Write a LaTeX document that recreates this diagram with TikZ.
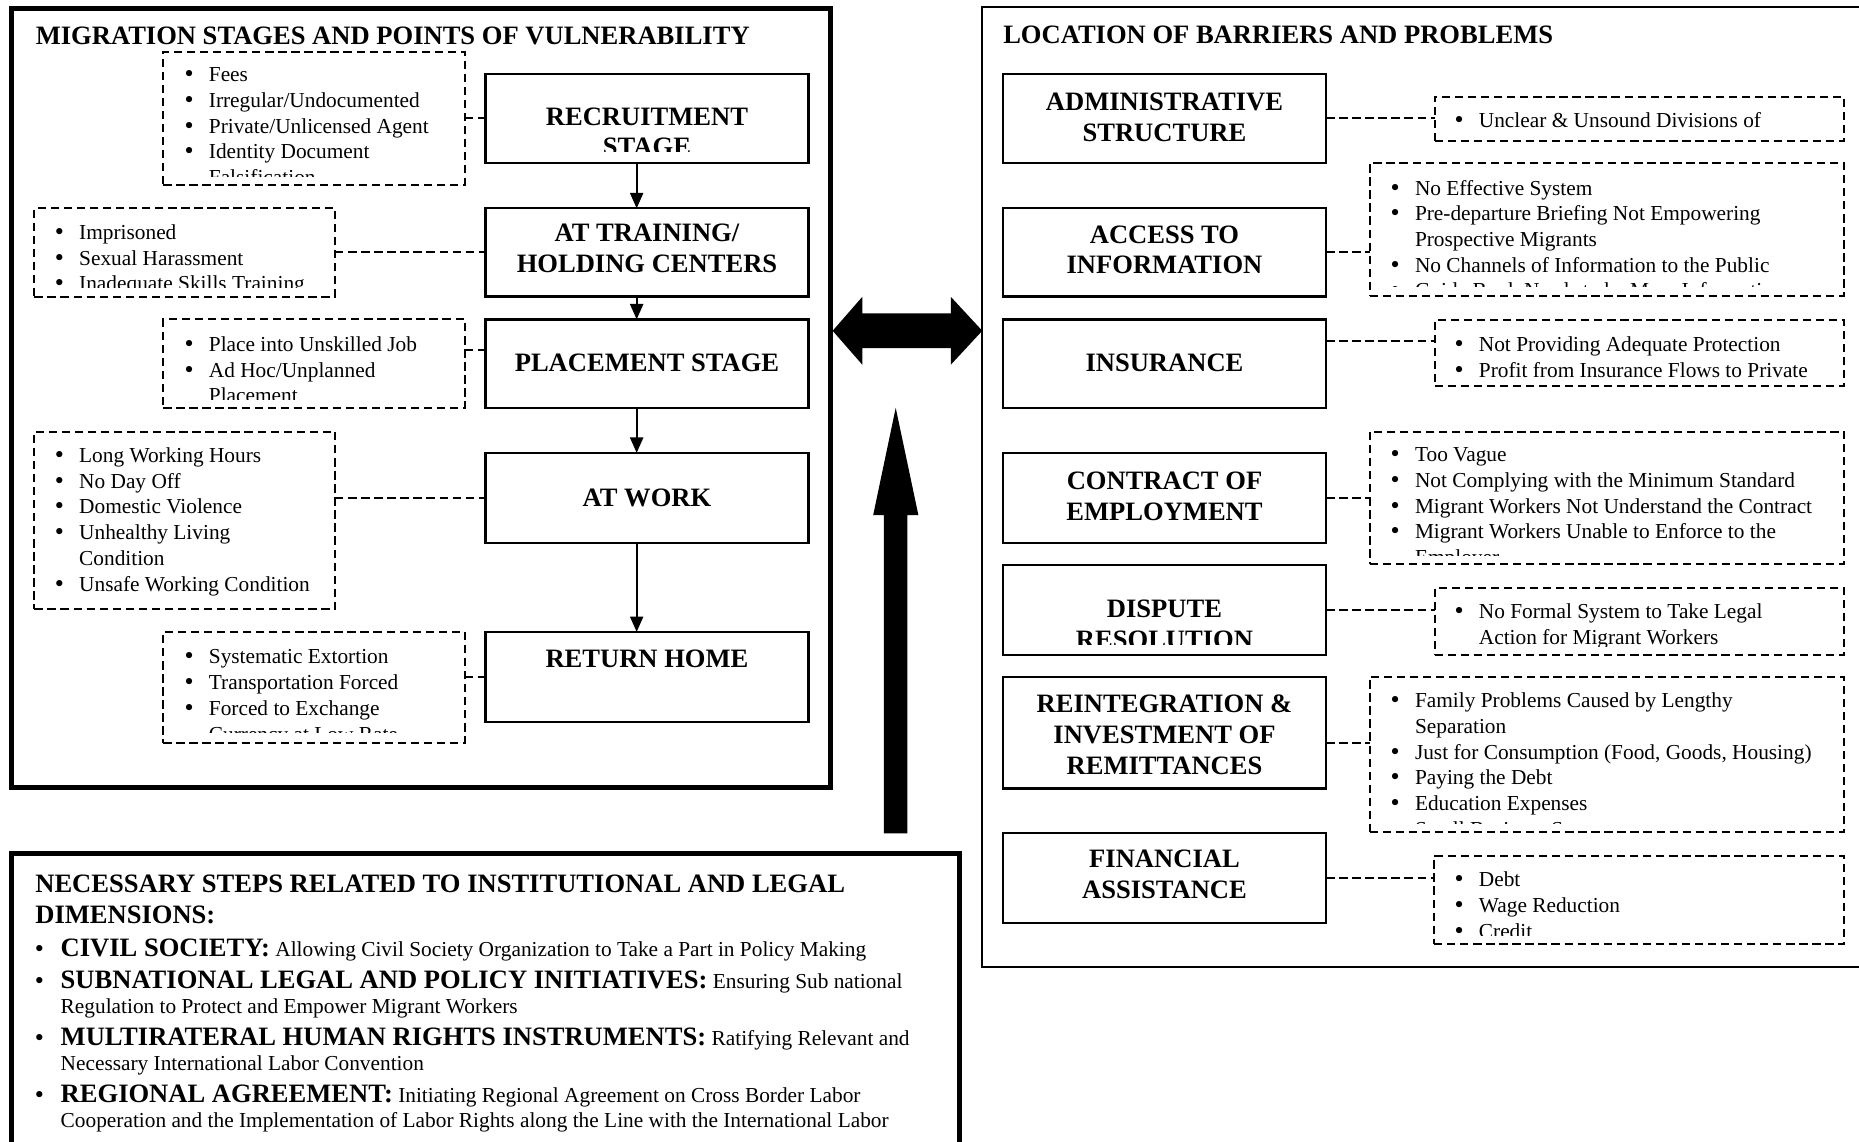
\documentclass[tikz,border=0pt]{standalone}
\usepackage{fontspec}
\setmainfont{Liberation Serif}
\newfontfamily\bulletfont{DejaVu Sans}
\usetikzlibrary{arrows.meta,calc}
\newcommand\rectnode[6]{%
  \pgfmathsetmacro\RNw{#5-#3}\pgfmathsetmacro\RNh{#6-#4}%
  \node[#1, anchor=north west, minimum width=\RNw pt, minimum height=\RNh pt] (#2) at (#3,#4) {};}
\newcommand\inbox[3][7.5]{\begin{scope}\clip ([shift={(2pt,-2pt)}]#2.north west) rectangle ([shift={(-2pt,#1pt)}]#2.south east); #3\end{scope}}
\newcommand\tb[1]{\begin{tabular}[t]{@{}c@{}}#1\end{tabular}}
\newcommand\tl[1]{\begin{tabular}[t]{@{}p{19.75pt}@{}l@{}}#1\end{tabular}}
\newcommand\bu{\hspace*{-2.2pt}{\bulletfont\fontsize{18}{18}\selectfont •}}
\newcommand\bigb[1]{{\fontsize{22.4}{21}\selectfont\bfseries #1}}
\tikzset{
  sbox/.style={draw, line width=1.9pt, inner sep=0pt, outer sep=0pt},
  dbox/.style={draw, line width=1.7pt, dash pattern=on 7pt off 4pt, inner sep=0pt, outer sep=0pt},
  thickpanel/.style={draw, line width=4pt, inner sep=0pt, outer sep=0pt},
  thinpanel/.style={draw, line width=1.6pt, inner sep=0pt, outer sep=0pt},
  conn/.style={line width=1.7pt, dash pattern=on 7pt off 4pt},
  flow/.style={line width=1.8pt, -{Triangle[length=13pt,width=11pt]}},
  hd/.style={font=\fontsize{22.4}{26}\selectfont\bfseries, inner sep=0pt, anchor=base west},
  lbl/.style={font=\fontsize{22.4}{26}\selectfont\bfseries, inner sep=0pt, anchor=base},
  lst/.style={font=\fontsize{18}{21.7}\selectfont, inner sep=0pt, anchor=base west},
  blst/.style={font=\fontsize{18}{21}\selectfont, inner sep=0pt, anchor=base west},
  bigarrow/.style={fill=black},
}
\begin{document}
\begin{tikzpicture}[x=1pt,y=-1pt]
\useasboundingbox (0,0) rectangle (1568,963);
\fill[white] (0,0) rectangle (1568,963);
\clip (0,0) rectangle (1568,963);
% panels
\rectnode{thickpanel}{Lp}{10}{7}{700.5}{664}
\rectnode{thinpanel}{Rp}{828.3}{6.2}{1620}{815.3}
\rectnode{thickpanel}{Bp}{10}{720}{809}{1010}
\node[hd] (Lt) at (30,37.5) {MIGRATION STAGES AND POINTS OF VULNERABILITY};
\node[hd] (Rt) at (846,36.5) {LOCATION OF BARRIERS AND PROBLEMS};
% stage boxes
\rectnode{sbox}{s1}{409.4}{62.4}{682}{137.2}
\rectnode{sbox}{s2}{409.4}{175.7}{682}{250}
\rectnode{sbox}{s3}{409.4}{269.4}{682}{344.3}
\rectnode{sbox}{s4}{409.4}{382}{682}{458}
\rectnode{sbox}{s5}{409.4}{533}{682}{609}
\inbox[9.5]{s1}{\node[lbl] (s1t) at (545.7,105.5) {\tb{RECRUITMENT\\STAGE}};}
\inbox{s2}{\node[lbl] (s2t) at (545.7,204) {\tb{AT TRAINING/\\HOLDING CENTERS}};}
\inbox{s3}{\node[lbl] (s3t) at (545.7,313) {PLACEMENT STAGE};}
\inbox{s4}{\node[lbl] (s4t) at (545.7,427) {AT WORK};}
\inbox{s5}{\node[lbl] (s5t) at (545.7,563) {RETURN HOME};}
% flow arrows
\coordinate (ax) at (537,0);
\draw[flow] (s1.south -| ax) -- (s2.north -| ax);
\draw[flow] (s2.south -| ax) -- (s3.north -| ax);
\draw[flow] (s3.south -| ax) -- (s4.north -| ax);
\draw[flow] (s4.south -| ax) -- (s5.north -| ax);
% vulnerability boxes
\rectnode{dbox}{v1}{137.7}{43.6}{392}{156}
\rectnode{dbox}{v2}{29}{175.7}{282.7}{250.2}
\rectnode{dbox}{v3}{137.7}{269.4}{392}{344.3}
\rectnode{dbox}{v4}{29}{364}{282.7}{513.8}
\rectnode{dbox}{v5}{137.7}{533}{392}{626.7}
\inbox{v1}{\node[lst] (v1t) at (156.25,69) {\tl{\bu & Fees\\ \bu & Irregular/Undocumented\\ \bu & Private/Unlicensed Agent\\ \bu & Identity Document\\ & Falsification}};}
\inbox{v2}{\node[lst] (v2t) at (46.85,202) {\tl{\bu & Imprisoned\\ \bu & Sexual Harassment\\ \bu & Inadequate Skills Training}};}
\inbox{v3}{\node[lst] (v3t) at (156.25,296.5) {\tl{\bu & Place into Unskilled Job\\ \bu & Ad Hoc/Unplanned\\ & Placement}};}
\inbox{v4}{\node[lst] (v4t) at (46.85,390) {\tl{\bu & Long Working Hours\\ \bu & No Day Off\\ \bu & Domestic Violence\\ \bu & Unhealthy Living\\ & Condition\\ \bu & Unsafe Working Condition}};}
\inbox[8.5]{v5}{\node[lst] (v5t) at (156.25,560) {\tl{\bu & Systematic Extortion\\ \bu & Transportation Forced\\ \bu & Forced to Exchange\\ & Currency at Low Rate}};}
\coordinate (c3) at (0,295);
\draw[conn] (v1.east |- s1.west) -- (s1.west);
\draw[conn] (v2.east |- s2.west) -- (s2.west);
\draw[conn] (v3.east |- c3) -- (s3.west |- c3);
\draw[conn] (v4.east |- s4.west) -- (s4.west);
\draw[conn] (v5.east |- s5.west) -- (s5.west);
% barrier boxes
\rectnode{sbox}{r1}{845.7}{62.4}{1118.6}{137.2}
\rectnode{sbox}{r2}{845.7}{175.7}{1118.6}{250}
\rectnode{sbox}{r3}{845.7}{269.4}{1118.6}{344.3}
\rectnode{sbox}{r4}{845.7}{382}{1118.6}{458}
\rectnode{sbox}{r5}{845.7}{476.6}{1118.6}{552.6}
\rectnode{sbox}{r6}{845.7}{571}{1118.6}{665}
\rectnode{sbox}{r7}{845.7}{702.6}{1118.6}{778.5}
\inbox{r1}{\node[lbl] (r1t) at (982.2,93) {\tb{ADMINISTRATIVE\\STRUCTURE}};}
\inbox{r2}{\node[lbl] (r2t) at (982.2,205) {\tb{ACCESS TO\\INFORMATION}};}
\inbox{r3}{\node[lbl] (r3t) at (982.2,313) {INSURANCE};}
\inbox{r4}{\node[lbl] (r4t) at (982.2,413) {\tb{CONTRACT OF\\EMPLOYMENT}};}
\inbox[9]{r5}{\node[lbl] (r5t) at (982.2,521) {\tb{DISPUTE\\RESOLUTION}};}
\inbox{r6}{\node[lbl] (r6t) at (982.2,601) {\tb{REINTEGRATION \&\\INVESTMENT OF\\REMITTANCES}};}
\inbox{r7}{\node[lbl] (r7t) at (982.2,732) {\tb{FINANCIAL\\ASSISTANCE}};}
% problem boxes
\rectnode{dbox}{d1}{1210}{81.5}{1555.5}{118.7}
\rectnode{dbox}{d2}{1155.2}{137.8}{1555.5}{249.4}
\rectnode{dbox}{d3}{1210}{270}{1555.5}{325.6}
\rectnode{dbox}{d4}{1155.2}{364}{1555.5}{476}
\rectnode{dbox}{d5}{1210}{496}{1555.5}{552.5}
\rectnode{dbox}{d6}{1155.2}{570.7}{1555.5}{702}
\rectnode{dbox}{d7}{1209.6}{722}{1555.5}{796.5}
\inbox{d1}{\node[lst] (d1t) at (1227.45,107.3) {\tl{\bu & Unclear \& Unsound Divisions of}};}
\inbox{d2}{\node[lst] (d2t) at (1173.55,164.5) {\tl{\bu & No Effective System\\ \bu & Pre-departure Briefing Not Empowering\\ & Prospective Migrants\\ \bu & No Channels of Information to the Public\\ \bu & Guide Book Needs to be More Informative}};}
\inbox{d3}{\node[lst] (d3t) at (1227.45,296.5) {\tl{\bu & Not Providing Adequate Protection\\ \bu & Profit from Insurance Flows to Private}};}
\inbox{d4}{\node[lst] (d4t) at (1173.55,389.5) {\tl{\bu & Too Vague\\ \bu & Not Complying with the Minimum Standard\\ \bu & Migrant Workers Not Understand the Contract\\ \bu & Migrant Workers Unable to Enforce to the\\ & Employer}};}
\inbox{d5}{\node[lst] (d5t) at (1227.45,522) {\tl{\bu & No Formal System to Take Legal\\ & Action for Migrant Workers}};}
\inbox{d6}{\node[lst] (d6t) at (1173.55,597) {\tl{\bu & Family Problems Caused by Lengthy\\ & Separation\\ \bu & Just for Consumption (Food, Goods, Housing)\\ \bu & Paying the Debt\\ \bu & Education Expenses\\ \bu & Small Business Start-up}};}
\inbox{d7}{\node[lst] (d7t) at (1227.45,748) {\tl{\bu & Debt\\ \bu & Wage Reduction\\ \bu & Credit}};}
\coordinate (c9) at (0,288);
\coordinate (c10) at (0,627);
\draw[conn] (r1.east) -- (r1.east -| d1.west);
\draw[conn] (r2.east) -- (r2.east -| d2.west);
\draw[conn] (r3.east |- c9) -- (d3.west |- c9);
\draw[conn] (r4.east) -- (r4.east -| d4.west);
\draw[conn] (r5.east) -- (r5.east -| d5.west);
\draw[conn] (r6.east |- c10) -- (d6.west |- c10);
\draw[conn] (r7.east) -- (r7.east -| d7.west);
% big arrows
\fill[bigarrow] (702.3,279) -- (727.3,250.4) -- (727.3,264.3) -- (802,264.3) -- (802,250.4)
  -- (828.5,279) -- (802,307.6) -- (802,293.7) -- (727.3,293.7) -- (727.3,307.6) -- cycle;
\fill[bigarrow] (755.5,344) -- (774.6,434.4) -- (765.3,434.4) -- (765.3,703) -- (745.6,703)
  -- (745.6,434.4) -- (736.5,434.4) -- cycle;
% steps panel
\node[hd] (Bt) at (29.6,753) {\begin{tabular}[t]{@{}l@{}}NECESSARY STEPS RELATED TO INSTITUTIONAL AND LEGAL\\DIMENSIONS:\end{tabular}};
\node[blst] (b1) at (29.85,807) {\begin{tabular}[t]{@{}p{21.15pt}@{}l@{}}\bu & \bigb{CIVIL SOCIETY:} Allowing Civil Society Organization to Take a Part in Policy Making\end{tabular}};
\node[blst] (b2) at (29.85,834) {\begin{tabular}[t]{@{}p{21.15pt}@{}l@{}}\bu & \bigb{SUBNATIONAL LEGAL AND POLICY INITIATIVES:} Ensuring Sub national\\ & Regulation to Protect and Empower Migrant Workers\end{tabular}};
\node[blst] (b3) at (29.85,882) {\begin{tabular}[t]{@{}p{21.15pt}@{}l@{}}\bu & \bigb{MULTIRATERAL HUMAN RIGHTS INSTRUMENTS:} Ratifying Relevant and\\ & Necessary International Labor Convention\end{tabular}};
\node[blst] (b4) at (29.85,930) {\begin{tabular}[t]{@{}p{21.15pt}@{}l@{}}\bu & \bigb{REGIONAL AGREEMENT:} Initiating Regional Agreement on Cross Border Labor\\ & Cooperation and the Implementation of Labor Rights along the Line with the International Labor\end{tabular}};
\end{tikzpicture}
\end{document}
